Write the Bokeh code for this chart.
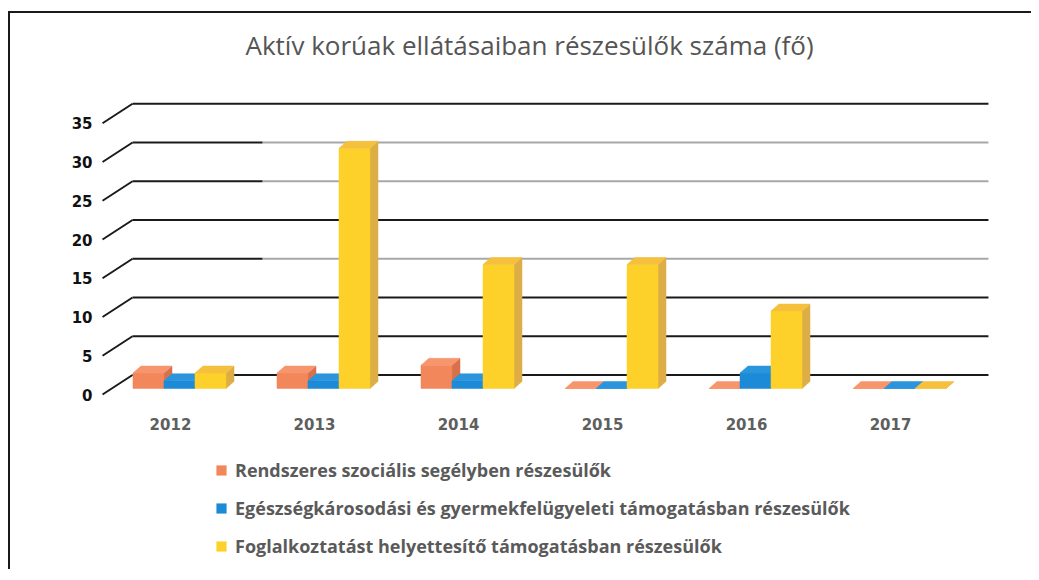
import numpy as np
from bokeh.plotting import figure
from bokeh.models import FixedTicker, Legend, LegendItem
from bokeh.embed import file_html
from bokeh.resources import INLINE

# ---------------- data ----------------
years = ["2012", "2013", "2014", "2015", "2016", "2017"]
rendszeres = [2, 2, 3, 0, 0, 0]
egeszseg = [1, 1, 1, 0, 2, 0]
foglalkoztatast = [2, 31, 16, 16, 10, 0]
y_ticks = [0, 5, 10, 15, 20, 25, 30, 35]
series_names = [
    "Rendszeres szociális segélyben részesülők",
    "Egészségkárosodási és gyermekfelügyeleti támogatásban részesülők",
    "Foglalkoztatást helyettesítő támogatásban részesülők",
]
title_text = "Aktív korúak ellátásaiban részesülők száma (fő)"

# ---------------- style / projection ----------------
front_cols = ["#F2875C", "#1C8AD6", "#FDD12A"]
side_cols = ["#D8714B", "#176DAE", "#DDAE45"]
top_cols = ["#F7956C", "#2A95DC", "#F5C03C"]

PX_X = 144.0
PX_Y = 7.75
wall_dx = 30 / PX_X
wall_dy = 19.5 / PX_Y
bar_off_x = 9 / PX_X
bar_off_y = 6 / PX_Y
bar_dx = 8 / PX_X
bar_dy = 7 / PX_Y
bar_w = 31 / PX_X
front_left = -0.472
back_left = front_left + wall_dx
back_right = 5.68
gray_from = 0.64
gray_ticks = [15, 25, 30]
axis_y = -1.806

p = figure(
    frame_width=931, frame_height=496,
    x_range=(-0.486, 5.979), y_range=(-22.58, 41.42),
    min_border_left=90, min_border_right=0, min_border_top=60, min_border_bottom=0,
    output_backend="svg", toolbar_location=None,
)
p.styles = {"margin-top": "11px", "margin-left": "8px",
            "border-top": "2px solid #1a1a1a", "border-left": "2px solid #1a1a1a"}
p.outline_line_color = None
p.xgrid.visible = False
p.ygrid.visible = False

# title
p.title.text = title_text
p.title.align = "left"
p.title.offset = 145
p.title.standoff = 22
p.title.text_font = "Open Sans"
p.title.text_font_size = "26px"
p.title.text_font_style = "normal"
p.title.text_color = "#555555"

# back wall grid lines and left diagonals
yt = np.array(y_ticks, dtype=float)
p.segment(x0=[front_left] * len(yt), y0=yt, x1=[back_left] * len(yt), y1=yt + wall_dy,
          line_color="#1a1a1a", line_width=2)
black_full = [v for v in y_ticks if v not in gray_ticks]
p.segment(x0=[back_left] * len(black_full), y0=np.array(black_full) + wall_dy,
          x1=[back_right] * len(black_full), y1=np.array(black_full) + wall_dy,
          line_color="#1a1a1a", line_width=2)
gt = np.array(gray_ticks, dtype=float)
p.segment(x0=[back_left] * len(gt), y0=gt + wall_dy, x1=[gray_from] * len(gt), y1=gt + wall_dy,
          line_color="#1a1a1a", line_width=2)
p.segment(x0=[gray_from] * len(gt), y0=gt + wall_dy, x1=[back_right] * len(gt), y1=gt + wall_dy,
          line_color="#A8A8A8", line_width=2)

# 3D bars
series = [rendszeres, egeszseg, foglalkoztatast]
front_renderers = []
for k, vals in enumerate(series):
    v = np.array(vals, dtype=float)
    xi = np.arange(len(years), dtype=float)
    xl = xi + bar_off_x + (k - 1) * bar_w - bar_w / 2
    xr = xl + bar_w
    yb = np.full_like(v, bar_off_y)
    ytop = yb + v
    sx = [[a, a + bar_dx, a + bar_dx, a] for a in xr]
    sy = [[b, b + bar_dy, t + bar_dy, t] for b, t in zip(yb, ytop)]
    p.patches(sx, sy, fill_color=side_cols[k], line_color=side_cols[k], line_width=0.5)
    r = p.quad(left=xl, right=xr, bottom=yb, top=ytop, fill_color=front_cols[k],
               line_color=front_cols[k], line_width=0.5)
    front_renderers.append(r)
    tx = [[a, b, b + bar_dx, a + bar_dx] for a, b in zip(xl, xr)]
    ty = [[t, t, t + bar_dy, t + bar_dy] for t in ytop]
    p.patches(tx, ty, fill_color=top_cols[k], line_color=top_cols[k], line_width=0.5)

# axes
p.xaxis.fixed_location = axis_y
p.xaxis.ticker = FixedTicker(ticks=list(range(len(years))))
p.xaxis.major_label_overrides = {i: y for i, y in enumerate(years)}
p.xaxis.axis_line_color = None
p.xaxis.major_tick_line_color = None
p.xaxis.minor_tick_line_color = None
p.xaxis.major_label_standoff = 3
p.xaxis.major_label_text_font = "DejaVu Sans"
p.xaxis.major_label_text_font_style = "bold"
p.xaxis.major_label_text_font_size = "15px"
p.xaxis.major_label_text_color = "#5E5E5E"

p.yaxis.ticker = FixedTicker(ticks=y_ticks)
p.yaxis.axis_line_color = None
p.yaxis.major_tick_line_color = None
p.yaxis.minor_tick_line_color = None
p.yaxis.major_label_standoff = 2
p.yaxis.major_label_text_font = "DejaVu Sans"
p.yaxis.major_label_text_font_style = "bold"
p.yaxis.major_label_text_font_size = "15px"
p.yaxis.major_label_text_color = "#111111"

legend = Legend(
    items=[LegendItem(label=n, renderers=[r]) for n, r in zip(series_names, front_renderers)],
    location=(115, 11), orientation="vertical",
    glyph_width=12, glyph_height=12, label_standoff=8,
    label_height=22, spacing=14, padding=0, margin=0,
    border_line_color=None, background_fill_alpha=0,
    label_text_font="Open Sans", label_text_font_style="bold",
    label_text_font_size="18px", label_text_color="#5A5A5A",
)
p.add_layout(legend, "center")

open("out.html", "w").write(file_html(p, INLINE))
